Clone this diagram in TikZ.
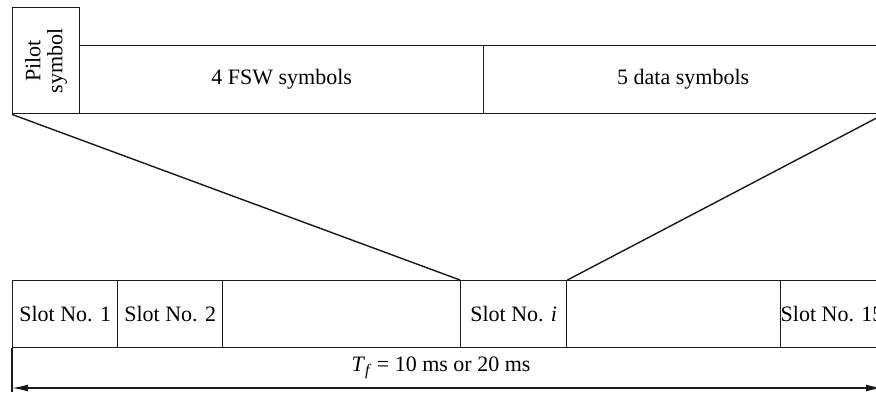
\documentclass[tikz,border=0pt]{standalone}
\usepackage{fontspec}
\setmainfont{Liberation Serif}
\usetikzlibrary{arrows.meta}
\begin{document}
\begin{tikzpicture}[x=0.5pt,y=-0.5pt,
  font=\fontsize{11}{12}\selectfont,
  line width=0.7pt, draw=black!90,
  cell/.style={draw=black!90, line width=0.7pt, rectangle, inner sep=0pt, anchor=north west, minimum height=33.5pt},
  topcell/.style={cell, minimum height=34pt}]
\useasboundingbox (0,0) rectangle (876,392);
\clip (0,0) rectangle (876,392);
% top frame
\node[cell, minimum width=33.5pt, minimum height=53pt] (pilot) at (12,7) {};
\node[rotate=90, align=center, font=\fontsize{11}{11}\selectfont] (pilottxt) at (pilot.center) {Pilot\\symbol};
\node[topcell, minimum width=202pt] (fsw) at (79,45) {4 FSW symbols};
\node[topcell, minimum width=199.5pt] (data) at (483,45) {5 data symbols};
% slots
\node[cell, minimum width=52.5pt] (s1) at (12,280) {Slot No. 1};
\node[cell, minimum width=52.5pt] (s2) at (117,280) {Slot No. 2};
\node[cell, minimum width=119pt] (g1) at (222,280) {};
\node[cell, minimum width=53pt] (si) at (460,280) {Slot No. \textit{i}};
\node[cell, minimum width=107pt] (g2) at (566,280) {};
\node[cell, minimum width=51pt] (s15) at (780,280) {Slot No. 15};
% expansion lines
\draw (pilot.south west) -- (si.north west);
\draw (data.south east) -- (si.north east);
% frame duration
\coordinate (bl) at (12,392);
\coordinate (br) at (882,392);
\draw (s1.south west) -- (bl);
\draw (s15.south east) -- (br);
\coordinate (al) at (12,388);
\coordinate (ar) at (882,388);
\draw[{Latex[length=8,width=3.5]}-{Latex[length=8,width=3.5]}] (al) -- (ar);
\node (tf) at (441,368) {\textit{T}\raisebox{-0.45ex}{\fontsize{8}{8}\selectfont\textit{f}} = 10 ms or 20 ms};
\end{tikzpicture}
\end{document}
